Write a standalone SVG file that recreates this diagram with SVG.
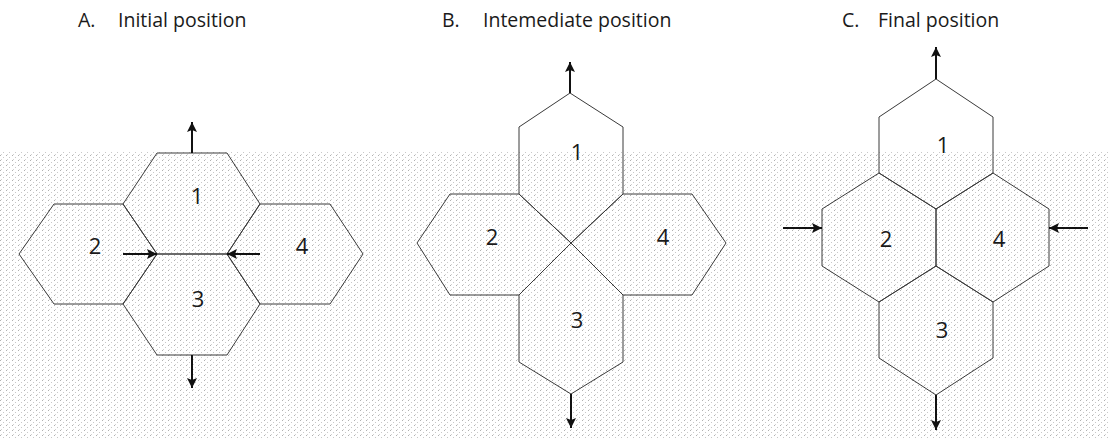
<svg xmlns="http://www.w3.org/2000/svg" width="1109" height="439" viewBox="0 0 1109 439">
  <defs>
    <style>
      .cell { fill: none; stroke: #3a3a3a; stroke-width: 1; stroke-linejoin: miter; }
      .num { font-family: "Open Sans", "Liberation Sans", sans-serif; font-size: 22px; fill: #1a1a1a; text-anchor: middle; }
      .title { font-family: "Open Sans", "Liberation Sans", sans-serif; font-size: 19.5px; fill: #1a1a1a; }
      .force { fill: none; stroke: #111; stroke-width: 2; marker-end: url(#head); }
    </style>
    <marker id="head" markerUnits="userSpaceOnUse" markerWidth="12" markerHeight="12" refX="10" refY="5" orient="auto">
      <path d="M0,0 L10,5 L0,10 L2,5 Z" fill="#111"/>
    </marker>
    <!-- light stippled screen behind the lower part -->
    <pattern id="stipple" width="6" height="5" patternUnits="userSpaceOnUse">
      <rect x="0" y="0" width="1" height="1" fill="#b0b0b0"/>
      <rect x="3" y="2" width="1" height="1" fill="#c8c8c8"/>
      <rect x="1" y="4" width="1" height="1" fill="#d2d2d2"/>
    </pattern>
  </defs>

  <rect x="0" y="0" width="1109" height="439" fill="#ffffff"/>
  <rect x="0" y="152" width="1109" height="287" fill="url(#stipple)"/>

  <!-- titles -->
  <g id="titles">
    <text class="title" x="78" y="27">A.</text>
    <text class="title" x="118" y="27">Initial position</text>
    <text class="title" x="442" y="27">B.</text>
    <text class="title" x="483" y="27">Intemediate position</text>
    <text class="title" x="842" y="27">C.</text>
    <text class="title" x="878" y="27">Final position</text>
  </g>

  <!-- A: initial position -->
  <g id="a-cell-1">
    <polygon class="cell" points="157,153 227,153 260,204 227,254 157,254 123,204"/>
    <text class="num" x="197" y="204">1</text>
  </g>
  <g id="a-cell-2">
    <polygon class="cell" points="54,204 123,204 157,254 123,304 54,304 19,254"/>
    <text class="num" x="95" y="254">2</text>
  </g>
  <g id="a-cell-3">
    <polygon class="cell" points="157,254 227,254 260,304 227,355 157,355 123,304"/>
    <text class="num" x="198" y="307">3</text>
  </g>
  <g id="a-cell-4">
    <polygon class="cell" points="260,204 330,204 363,254 330,304 260,304 227,254"/>
    <text class="num" x="302" y="254">4</text>
  </g>

  <!-- B: intermediate position -->
  <g id="b-cell-1">
    <polygon class="cell" points="570,93 623,127 623,194 571,243 519,194 519,127"/>
    <text class="num" x="577" y="160">1</text>
  </g>
  <g id="b-cell-2">
    <polygon class="cell" points="450,194 519,194 571,243 519,295 450,295 417,243"/>
    <text class="num" x="492" y="245">2</text>
  </g>
  <g id="b-cell-3">
    <polygon class="cell" points="571,243 623,295 623,362 571,394 519,362 519,295"/>
    <text class="num" x="577" y="328">3</text>
  </g>
  <g id="b-cell-4">
    <polygon class="cell" points="623,194 692,194 726,243 692,295 623,295 571,243"/>
    <text class="num" x="663" y="245">4</text>
  </g>

  <!-- C: final position -->
  <g id="c-cell-1">
    <polygon class="cell" points="936,79 993,117 993,173 936,209 879,173 879,117"/>
    <text class="num" x="943" y="153">1</text>
  </g>
  <g id="c-cell-2">
    <polygon class="cell" points="879,173 936,209 936,266 879,302 822,266 822,209"/>
    <text class="num" x="886" y="247">2</text>
  </g>
  <g id="c-cell-3">
    <polygon class="cell" points="936,266 993,302 993,358 936,395 879,358 879,302"/>
    <text class="num" x="942" y="338">3</text>
  </g>
  <g id="c-cell-4">
    <polygon class="cell" points="993,173 1049,209 1049,266 993,302 936,266 936,209"/>
    <text class="num" x="999" y="247">4</text>
  </g>

  <!-- force arrows -->
  <g id="connectors">
    <line class="force" x1="192" y1="153" x2="192" y2="122"/>
    <line class="force" x1="192" y1="355" x2="192" y2="388"/>
    <line class="force" x1="123" y1="254" x2="157" y2="254"/>
    <line class="force" x1="260" y1="254" x2="227" y2="254"/>

    <line class="force" x1="570" y1="93" x2="570" y2="62"/>
    <line class="force" x1="571" y1="394" x2="571" y2="428"/>

    <line class="force" x1="936" y1="79" x2="936" y2="47"/>
    <line class="force" x1="936" y1="395" x2="936" y2="430"/>
    <line class="force" x1="783" y1="228" x2="822" y2="228"/>
    <line class="force" x1="1088" y1="228" x2="1049" y2="228"/>
  </g>
</svg>
